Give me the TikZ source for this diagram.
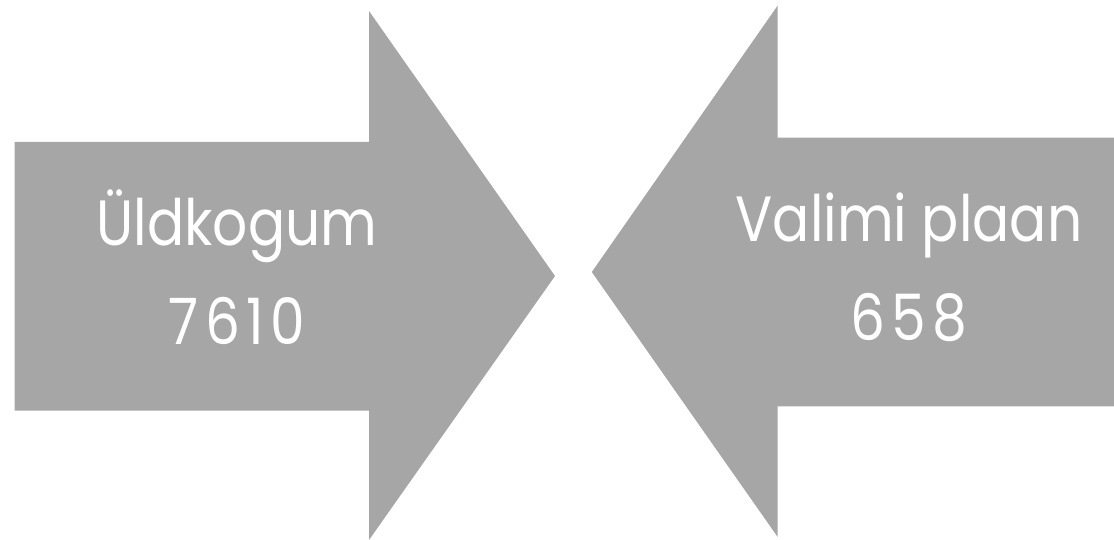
\documentclass[tikz,border=0pt]{standalone}
\usepackage{fontspec}
\setmainfont{Poppins}[FakeStretch=0.86]
\usepackage{tikz}
\definecolor{arrowgray}{HTML}{A6A6A6}
\tikzset{label text/.style={text=white, anchor=base, inner sep=0pt, font=\fontsize{64}{98}\selectfont},
  number text/.style={label text, font=\fontsize{64}{98}\selectfont\addfontfeatures{LetterSpace=10}}}

\begin{document}
\begin{tikzpicture}[x=1pt, y=-1pt]
\useasboundingbox (0,0) rectangle (1114,540);

% left arrow
\fill[arrowgray] (14.5,142)--(369,142)--(369,11)--(555,276)--(369,540)--(369,410.5)--(14.5,410.5)--cycle;
% right arrow
\fill[arrowgray] (1114,137.7)--(777.7,137.7)--(777.7,5.5)--(591.8,272)--(777.7,537)--(777.7,406.3)--(1114,406.3)--cycle;

\node[label text] (pop) at (237,246) {Üldkogum};
\node[number text] (popnum) at (237,344) {7610};
\node[label text] (plan) at (909,242) {Valimi plaan};
\node[number text] (plannum) at (909,340) {658};
\end{tikzpicture}
\end{document}
